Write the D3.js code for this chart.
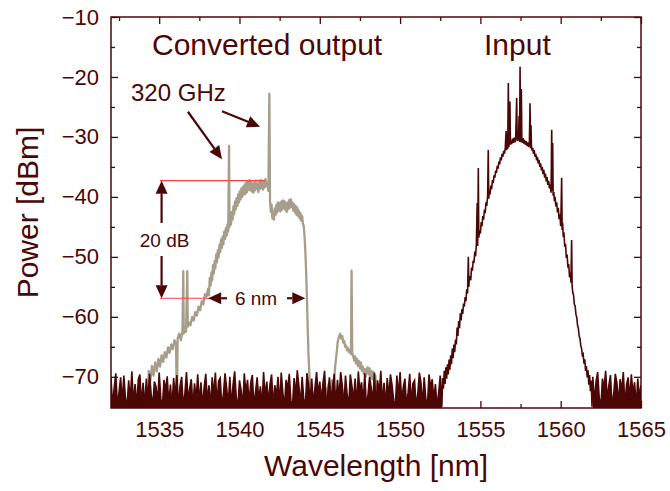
<!DOCTYPE html>
<html><head><meta charset="utf-8">
<script src="https://cdn.jsdelivr.net/npm/d3@7"></script>
<style>body{margin:0;background:#fff;} text{font-family:"Liberation Sans",Arial,sans-serif;}</style>
</head><body><svg id="c" width="670" height="491"></svg>
<script>
// ---------- data ----------
const xDomain = [1532, 1565];
const yDomain = [-75.2, -10];
const xTicks = [1535, 1540, 1545, 1550, 1555, 1560, 1565];
const xMinorTicks = [1532.5, 1537.5, 1542.5, 1547.5, 1552.5, 1557.5, 1562.5];
const yTicks = [-70, -60, -50, -40, -30, -20, -10];
const yMinorTicks = [-65, -55, -45, -35, -25, -15];

// OSA noise floor (uniform 0.1 nm sampling)
const noiseLeftStart = 1532.0, noiseStep = 0.1;
const noiseLeftDb = [
-70.2,-74.9,-71.8,-69.4,-75.0,-72.6,-70.1,-74.3,-69.8,-73.5,
-75.0,-70.6,-73.9,-69.1,-74.6,-71.2,-75.0,-70.4,-69.6,-74.8,
-71.0,-75.0,-70.3,-73.8,-69.5,-72.9,-75.0,-70.8,-71.6,-74.5,
-69.3,-73.6,-75.0,-70.5,-72.4,-69.9,-74.7,-71.3,-75.0,-70.2,
-73.2,-69.7,-74.9,-71.5,-70.0,-75.0,-72.8,-69.2,-74.1,-71.9,
-70.4,-75.0,-71.1,-73.7,-69.6,-74.4,-70.9,-75.0,-71.8,-69.5,
-74.2,-71.4,-75.0,-70.1,-73.0,-69.3,-74.8,-70.7,-70.2,-75.0,
-72.9,-69.4,-71.9,-74.6,-70.0,-75.0,-71.3,-69.1,-73.5,-74.9,
-70.6,-72.2,-75.0,-69.4,-72.8,-70.5,-74.6,-71.0,-69.7,-75.0,
-72.5,-70.1,-74.0,-71.6,-75.0,-69.2,-73.4,-70.8,-74.5,-71.2,
-69.6,-75.0,-71.4,-73.3,-70.0,-74.8,-69.3,-72.7,-75.0,-70.5,
-72.0,-69.5,-74.0,-75.0,-70.2,-73.1,-68.9,-71.6,-74.7,-70.0,
-73.6,-75.0,-69.4,-71.2,-73.8,-70.3,-75.0,-71.8,-69.2,-73.0,
-70.8,-74.4,-71.0,-69.0,-75.0,-72.7,-70.1,-74.1,-71.5,-69.5,
-75.0,-70.5,-73.4,-69.2,-71.4,-74.9,-69.8,-72.9,-75.0,-69.6,
-71.5,-74.0,-70.3,-75.0,-69.1,-72.6,-70.9,-74.5,-69.4,-75.0,
-73.0,-70.0,-71.8,-74.3,-69.3,-75.0,-70.6,-72.8,-69.0,-74.6,
-71.0,-75.0,-70.2,-73.4,-69.6,-71.4,-73.9,-75.0,-69.8,-73.2,
-69.2,-74.1,-71.7,-70.3,-75.0,-72.6,-69.5,-74.4,-71.1,-70.6,
-75.0,-72.9,-69.3,-71.0,-74.7,-70.1,-73.6,-75.0,-69.6,-71.8,
-70.4,-73.8,-71.2,-75.0,-72.7,-69.8,-75.0];
const noiseRightStart = 1562.0;
const noiseRightDb = [
-70.0,-74.3,-70.8,-69.2,-73.5,-75.0,-70.3,-71.9,-69.0,-74.0,
-71.4,-69.7,-75.0,-72.9,-69.5,-71.0,-74.5,-70.4,-72.3,-69.2,
-75.0,-71.3,-70.1,-73.8,-69.6,-72.9,-70.9,-75.0,-70.3,-73.5,-71.4];

// Input spectrum (signal part)
const inputWl = [
1552.65,1552.70,1552.75,1552.80,1552.85,1552.90,1552.95,1553.00,1553.05,1553.10,
1553.15,1553.20,1553.25,1553.30,1553.35,1553.40,1553.45,1553.50,1553.55,1553.60,
1553.65,1553.70,1553.75,1553.80,1553.85,1553.90,1553.95,1554.00,1554.05,1554.10,
1554.15,1554.20,1554.25,1554.28,1554.30,1554.35,1554.40,1554.45,1554.50,1554.55,
1554.60,1554.65,1554.70,1554.75,1554.80,1554.83,1554.87,1554.90,1554.95,1555.00,
1555.05,1555.10,1555.15,1555.20,1555.25,1555.30,1555.35,1555.40,1555.45,1555.49,
1555.52,1555.55,1555.60,1555.65,1555.70,1555.75,1555.80,1555.85,1555.90,1555.95,
1556.00,1556.05,1556.10,1556.15,1556.20,1556.25,1556.30,1556.35,1556.40,1556.45,
1556.50,1556.55,1556.60,1556.63,1556.67,1556.70,1556.74,1556.77,1556.80,1556.84,
1556.87,1556.90,1556.95,1557.00,1557.05,1557.10,1557.15,1557.20,1557.26,1557.29,
1557.33,1557.37,1557.41,1557.44,1557.47,1557.50,1557.55,1557.58,1557.62,1557.66,
1557.70,1557.75,1557.80,1557.85,1557.90,1557.95,1558.00,1558.05,1558.09,1558.12,
1558.15,1558.18,1558.22,1558.26,1558.30,1558.35,1558.40,1558.45,1558.50,1558.55,
1558.60,1558.65,1558.70,1558.75,1558.80,1558.85,1558.90,1558.95,1559.00,1559.05,
1559.10,1559.15,1559.20,1559.25,1559.30,1559.35,1559.40,1559.44,1559.47,1559.50,
1559.53,1559.57,1559.61,1559.65,1559.70,1559.75,1559.80,1559.85,1559.90,1559.95,
1560.00,1560.03,1560.06,1560.09,1560.12,1560.16,1560.20,1560.25,1560.30,1560.35,
1560.40,1560.45,1560.50,1560.55,1560.60,1560.64,1560.68,1560.71,1560.75,1560.80,
1560.85,1560.90,1560.95,1561.00,1561.05,1561.10,1561.15,1561.20,1561.25,1561.30,
1561.35,1561.40,1561.45,1561.50,1561.55,1561.60,1561.65,1561.70,1561.75,1561.80,
1561.85,1561.90,1561.95];
const inputDb = [
-70.2,-72.0,-69.0,-71.2,-68.4,-70.3,-67.9,-69.6,-67.1,-68.8,
-66.4,-67.9,-65.3,-66.9,-64.6,-65.9,-63.8,-64.6,-61.8,-63.2,
-60.7,-61.9,-59.4,-60.6,-58.7,-59.5,-57.8,-58.3,-56.7,-57.4,
-55.4,-56.1,-50.0,-55.0,-54.0,-53.2,-53.9,-51.8,-52.3,-50.6,
-51.0,-49.1,-49.9,-47.8,-41.0,-48.2,-35.2,-46.8,-45.6,-46.1,
-44.2,-44.9,-43.2,-43.8,-42.1,-42.7,-40.9,-41.5,-39.8,-32.2,
-40.3,-39.0,-39.6,-38.1,-38.7,-37.2,-37.7,-36.4,-36.8,-35.6,
-36.0,-34.8,-35.3,-34.1,-34.6,-33.4,-33.9,-32.8,-33.3,-32.3,
-32.8,-31.8,-29.0,-32.2,-31.5,-32.0,-21.0,-31.7,-30.9,-24.1,
-31.3,-30.6,-31.2,-30.3,-31.0,-30.1,-30.9,-30.0,-23.5,-30.7,
-29.9,-30.6,-26.5,-30.8,-18.3,-30.9,-22.0,-30.4,-31.0,-30.2,
-31.1,-30.5,-31.3,-30.7,-31.5,-30.9,-31.7,-31.1,-24.4,-31.9,
-28.0,-31.6,-32.3,-31.8,-32.8,-32.2,-33.3,-32.8,-33.9,-33.3,
-34.4,-33.8,-35.0,-34.4,-35.6,-35.0,-36.2,-35.5,-36.8,-36.1,
-37.4,-36.7,-38.0,-37.3,-38.6,-37.9,-39.3,-28.8,-39.0,-31.0,
-39.8,-39.2,-40.7,-40.0,-41.6,-40.9,-42.6,-41.8,-43.7,-42.9,
-44.9,-41.0,-36.8,-45.5,-44.3,-46.7,-45.9,-48.3,-47.8,-50.2,
-49.6,-51.8,-51.2,-53.4,-52.6,-54.3,-47.2,-54.8,-55.9,-56.4,
-57.9,-58.2,-59.6,-60.1,-61.4,-61.9,-63.2,-63.6,-64.8,-65.3,
-66.4,-66.2,-67.8,-67.1,-69.0,-68.2,-70.1,-68.9,-71.3,-69.7,
-72.4,-70.6,-75.0];

// Converted output spectrum
const convWl = [
1534.30,1534.35,1534.45,1534.55,1534.65,1534.75,1534.85,1534.95,1535.05,1535.15,
1535.25,1535.35,1535.45,1535.55,1535.65,1535.75,1535.85,1535.95,1536.05,1536.10,
1536.15,1536.25,1536.35,1536.45,1536.50,1536.53,1536.60,1536.67,1536.75,1536.78,
1536.85,1536.95,1537.05,1537.15,1537.25,1537.35,1537.45,1537.55,1537.65,1537.75,
1537.85,1537.95,1538.05,1538.10,1538.15,1538.20,1538.25,1538.30,1538.35,1538.40,
1538.45,1538.50,1538.55,1538.60,1538.65,1538.70,1538.75,1538.80,1538.85,1538.90,
1538.95,1539.00,1539.05,1539.10,1539.15,1539.20,1539.25,1539.30,1539.35,1539.38,
1539.42,1539.47,1539.52,1539.57,1539.62,1539.67,1539.72,1539.77,1539.82,1539.87,
1539.92,1539.97,1540.02,1540.07,1540.12,1540.17,1540.22,1540.27,1540.32,1540.37,
1540.42,1540.47,1540.52,1540.57,1540.62,1540.67,1540.72,1540.77,1540.82,1540.87,
1540.92,1540.97,1541.02,1541.07,1541.12,1541.17,1541.22,1541.27,1541.32,1541.37,
1541.42,1541.47,1541.52,1541.57,1541.62,1541.67,1541.72,1541.80,1541.86,1541.90,
1541.95,1542.00,1542.05,1542.10,1542.15,1542.20,1542.25,1542.30,1542.35,1542.40,
1542.45,1542.50,1542.55,1542.60,1542.65,1542.70,1542.75,1542.80,1542.85,1542.90,
1542.95,1543.00,1543.05,1543.10,1543.15,1543.20,1543.25,1543.30,1543.35,1543.40,
1543.45,1543.50,1543.55,1543.60,1543.65,1543.70,1543.75,1543.80,1543.85,1543.90,
1543.95,1544.00,1544.05,1544.10,1544.15,1544.20,1544.25,1544.30,1544.35,1544.40,
1544.45,1544.55,1544.65,1544.75,1544.85,1544.95,1545.05,1545.15,1545.25,1545.35,
1545.45,1545.55,1545.65,1545.75,1545.85,1545.95,1546.05,1546.12,1546.20,1546.27,
1546.33,1546.40,1546.46,1546.52,1546.58,1546.64,1546.70,1546.76,1546.82,1546.88,
1546.94,1546.98,1547.02,1547.08,1547.14,1547.20,1547.26,1547.32,1547.38,1547.44,
1547.50,1547.56,1547.62,1547.68,1547.74,1547.80,1547.86,1547.92,1547.98,1548.04,
1548.10,1548.16,1548.22,1548.28,1548.34,1548.40,1548.46,1548.52,1548.60];
const convDb = [
-75.0,-69.0,-70.6,-68.2,-69.8,-67.6,-69.1,-67.0,-68.3,-66.4,
-67.5,-65.9,-66.8,-65.1,-66.0,-64.6,-65.4,-63.9,-64.6,-75.0,
-63.6,-62.8,-63.9,-62.4,-52.4,-62.8,-61.8,-62.5,-52.4,-61.6,
-60.9,-61.4,-60.0,-60.6,-59.2,-59.8,-58.3,-58.9,-57.4,-57.9,
-56.2,-56.6,-55.3,-56.4,-53.5,-54.8,-52.6,-53.9,-51.4,-52.8,
-50.7,-51.9,-49.6,-50.9,-48.9,-50.1,-48.0,-49.2,-47.1,-48.5,
-46.6,-47.9,-45.8,-47.0,-45.2,-46.5,-44.6,-45.8,-31.5,-45.0,
-43.4,-44.6,-42.5,-43.8,-41.6,-42.9,-40.8,-42.1,-40.2,-41.5,
-39.6,-40.9,-39.1,-40.4,-38.6,-40.0,-38.3,-39.6,-37.9,-39.5,
-37.6,-39.2,-37.4,-38.8,-37.2,-38.9,-37.5,-39.1,-37.8,-39.3,
-37.6,-38.9,-37.3,-38.6,-37.9,-39.2,-37.5,-38.7,-37.2,-38.5,
-37.3,-38.8,-37.4,-38.4,-37.0,-38.2,-37.6,-39.0,-22.8,-40.6,
-42.5,-41.3,-43.6,-42.4,-43.8,-41.9,-43.0,-41.3,-42.6,-40.9,
-42.3,-41.0,-42.4,-40.8,-42.1,-40.6,-41.9,-40.7,-42.2,-41.0,
-42.5,-40.9,-42.0,-40.5,-41.8,-40.4,-41.7,-40.9,-42.3,-41.2,
-42.6,-41.5,-43.0,-41.8,-43.2,-42.3,-43.6,-42.7,-44.0,-43.2,
-44.5,-44.8,-46.5,-49.0,-52.5,-57.0,-62.0,-66.5,-69.5,-71.5,
-75.0,-72.6,-74.2,-72.0,-73.8,-71.9,-73.5,-72.2,-74.6,-71.8,
-73.0,-71.2,-72.8,-70.6,-71.9,-68.5,-66.0,-64.1,-63.3,-62.8,
-63.6,-63.2,-64.3,-64.0,-65.0,-64.8,-65.6,-65.2,-65.9,-65.5,
-66.2,-52.3,-66.0,-66.5,-67.3,-66.6,-67.8,-67.0,-68.2,-67.4,
-68.6,-67.6,-69.0,-68.3,-69.5,-68.7,-70.0,-68.8,-68.4,-69.6,
-68.6,-70.2,-69.0,-70.4,-69.2,-71.0,-69.8,-72.0,-75.0];

// annotation anchors (data units)
const level20dB = [-37.3, -56.9];
const redTopSpan = [1535.05, 1541.6];
const redBottomSpan = [1535.05, 1538.2];
const span6nm = [1538.05, 1544.1];
const arrows320 = [[[1536.79, -25.8], [1538.91, -33.7]], [[1538.91, -25.7], [1541.28, -28.3]]];

// ---------- drawing ----------
const m = {l: 111, r: 641, t: 17, b: 408};
const maroon = "#4b0606", tan = "#a69e8a", red = "#ff4040";
const svg = d3.select("#c");
const x = d3.scaleLinear().domain(xDomain).range([m.l, m.r]);
const y = d3.scaleLinear().domain(yDomain).range([m.b, m.t]);

svg.append("defs").append("clipPath").attr("id", "clip")
  .append("rect").attr("x", m.l).attr("y", m.t).attr("width", m.r - m.l).attr("height", m.b - m.t);

const line = d3.line().x(d => x(d[0])).y(d => y(d[1]));
const area = d3.area().x(d => x(d[0])).y0(y(yDomain[0])).y1(d => y(d[1]));

const noiseLeft = noiseLeftDb.map((v, i) => [noiseLeftStart + i * noiseStep, v]);
const noiseRight = noiseRightDb.map((v, i) => [noiseRightStart + i * noiseStep, v]);
const inputSeries = noiseLeft.concat(d3.zip(inputWl, inputDb), noiseRight);
const convSeries = d3.zip(convWl, convDb);

const g = svg.append("g").attr("clip-path", "url(#clip)");
g.append("path").attr("d", line(convSeries)).attr("fill", "none").attr("stroke", tan).attr("stroke-width", 2.3).attr("stroke-linejoin", "round");
g.append("path").attr("d", area(noiseLeft)).attr("fill", maroon);
g.append("path").attr("d", area(noiseRight)).attr("fill", maroon);
g.append("path").attr("d", line(inputSeries)).attr("fill", "none").attr("stroke", maroon).attr("stroke-width", 1.6);

// axes (ticks inward, mirrored)
function styleAxis(sel) {
  sel.select(".domain").remove();
  sel.selectAll(".tick line").attr("stroke", maroon).attr("stroke-width", 1.3);
  sel.selectAll(".tick text").attr("fill", maroon).attr("font-size", 22).attr("font-family", "Liberation Sans, Arial, sans-serif");
}
svg.append("g").attr("transform", `translate(0,${m.b})`)
  .call(d3.axisBottom(x).tickValues(xTicks).tickFormat(d3.format("d")).tickSize(-7).tickPadding(13)).call(styleAxis);
svg.append("g").attr("transform", `translate(0,${m.b})`)
  .call(d3.axisBottom(x).tickValues(xMinorTicks).tickFormat("").tickSize(-4)).call(styleAxis);
svg.append("g").attr("transform", `translate(0,${m.t})`)
  .call(d3.axisTop(x).tickValues(xTicks).tickFormat("").tickSize(-7)).call(styleAxis);
svg.append("g").attr("transform", `translate(0,${m.t})`)
  .call(d3.axisTop(x).tickValues(xMinorTicks).tickFormat("").tickSize(-4)).call(styleAxis);
svg.append("g").attr("transform", `translate(${m.l},0)`)
  .call(d3.axisLeft(y).tickValues(yTicks).tickFormat(d3.format("d")).tickSize(-7).tickPadding(12)).call(styleAxis);
svg.append("g").attr("transform", `translate(${m.l},0)`)
  .call(d3.axisLeft(y).tickValues(yMinorTicks).tickFormat("").tickSize(-4)).call(styleAxis);
svg.append("g").attr("transform", `translate(${m.r},0)`)
  .call(d3.axisRight(y).tickValues(yTicks).tickFormat("").tickSize(-7)).call(styleAxis);
svg.append("g").attr("transform", `translate(${m.r},0)`)
  .call(d3.axisRight(y).tickValues(yMinorTicks).tickFormat("").tickSize(-4)).call(styleAxis);

svg.append("rect").attr("x", m.l).attr("y", m.t).attr("width", m.r - m.l).attr("height", m.b - m.t)
  .attr("fill", "none").attr("stroke", maroon).attr("stroke-width", 1.5);

// axis titles
svg.append("text").attr("x", (m.l + m.r) / 2).attr("y", 476).attr("text-anchor", "middle")
  .attr("font-size", 30).attr("fill", maroon).text("Wavelength [nm]");
svg.append("text").attr("transform", `translate(38,${(m.t + m.b) / 2}) rotate(-90)`).attr("text-anchor", "middle")
  .attr("font-size", 30).attr("fill", maroon).text("Power [dBm]");

// annotations
svg.append("text").attr("x", 152).attr("y", 55).attr("font-size", 30).attr("fill", maroon).text("Converted output");
svg.append("text").attr("x", 484).attr("y", 55).attr("font-size", 30).attr("fill", maroon).text("Input");
svg.append("text").attr("x", 131).attr("y", 101).attr("font-size", 24).attr("fill", maroon).text("320 GHz");

// red reference lines
svg.append("line").attr("x1", x(redTopSpan[0])).attr("x2", x(redTopSpan[1])).attr("y1", y(level20dB[0])).attr("y2", y(level20dB[0]))
  .attr("stroke", red).attr("stroke-width", 1.2);
svg.append("line").attr("x1", x(redBottomSpan[0])).attr("x2", x(redBottomSpan[1])).attr("y1", y(level20dB[1])).attr("y2", y(level20dB[1]))
  .attr("stroke", red).attr("stroke-width", 1.2);

function arrow(x1, y1, x2, y2, headLen = 13, headW = 6) {
  const ang = Math.atan2(y2 - y1, x2 - x1);
  const bx = x2 - headLen * Math.cos(ang), by = y2 - headLen * Math.sin(ang);
  svg.append("line").attr("x1", x1).attr("y1", y1).attr("x2", bx).attr("y2", by)
    .attr("stroke", maroon).attr("stroke-width", 2.2);
  const px = -Math.sin(ang) * headW, py = Math.cos(ang) * headW;
  svg.append("path").attr("d", `M${x2},${y2}L${bx + px},${by + py}L${bx - px},${by - py}Z`).attr("fill", maroon);
}
// 320 GHz arrows
arrows320.forEach(a => arrow(x(a[0][0]), y(a[0][1]), x(a[1][0]), y(a[1][1])));

// 20 dB vertical double arrow
const xv = x(1535.15);
arrow(xv, 223, xv, y(level20dB[0]));
arrow(xv, 256, xv, y(level20dB[1]));
svg.append("text").attr("x", xv + 3).attr("y", 247).attr("text-anchor", "middle").attr("font-size", 19).attr("fill", maroon).text("20 dB");

// 6 nm horizontal arrow
const yh = y(level20dB[1]);
arrow(227, yh, x(span6nm[0]), yh);
arrow(287, yh, x(span6nm[1]), yh);
svg.append("text").attr("x", 256).attr("y", yh + 7).attr("text-anchor", "middle").attr("font-size", 19).attr("fill", maroon).text("6 nm");
</script></body></html>
